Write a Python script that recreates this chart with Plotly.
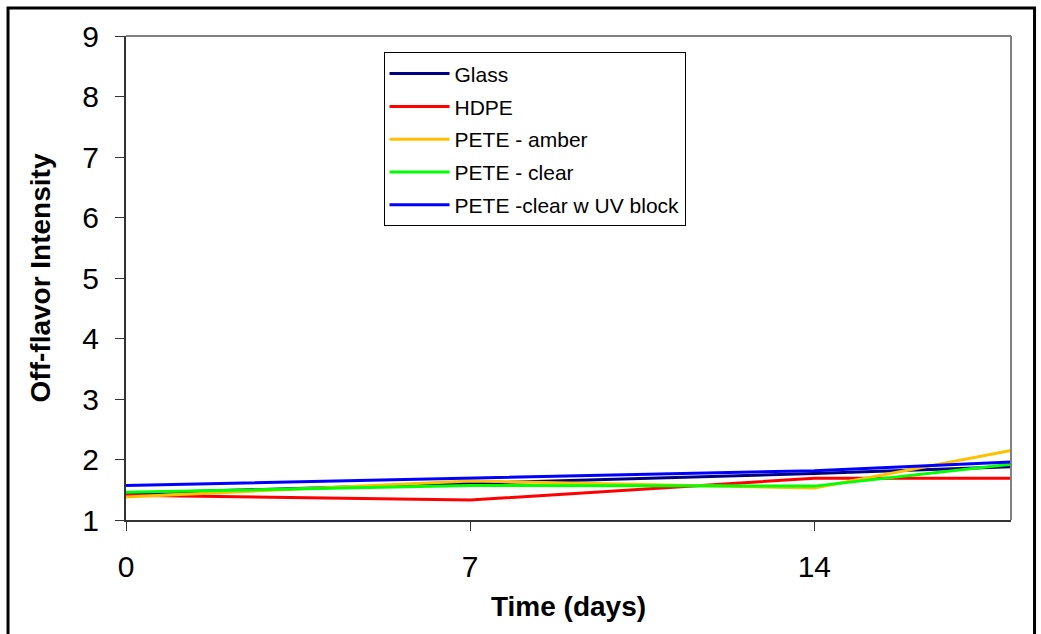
import plotly.graph_objects as go

# Storage time (days) and off-flavor intensity per packaging type
days = [0, 7, 14, 18]
glass = [1.44, 1.60, 1.77, 1.88]
hdpe = [1.41, 1.33, 1.69, 1.69]
pete_amber = [1.38, 1.645, 1.53, 2.15]
pete_clear = [1.46, 1.57, 1.56, 1.92]
pete_uv = [1.57, 1.69, 1.815, 1.96]

series = [
    ("Glass", glass, "#000080"),
    ("HDPE", hdpe, "#FF0000"),
    ("PETE - amber", pete_amber, "#FFC000"),
    ("PETE - clear", pete_clear, "#00FF00"),
    ("PETE -clear w UV block", pete_uv, "#0000FF"),
]

fig = go.Figure()
for name, vals, color in series:
    fig.add_trace(go.Scatter(
        x=days, y=vals, mode="lines", name=name, legendgroup=name,
        line=dict(color=color, width=3),
    ))

font = "Arial, Liberation Sans, sans-serif"

fig.update_layout(
    width=1041, height=634,
    margin=dict(l=126, r=30, t=36, b=114),
    paper_bgcolor="white", plot_bgcolor="white",
    font=dict(family=font, color="black"),
    showlegend=True,
    legend=dict(
        x=0.291, y=0.966, xanchor="left", yanchor="top",
        bordercolor="black", borderwidth=1, bgcolor="white",
        font=dict(size=21, family=font),
        itemwidth=60,
        tracegroupgap=2.5,
    ),
    xaxis=dict(
        range=[0, 18], tickvals=[0, 7, 14], ticktext=["0", "7", "14"],
        showgrid=False, zeroline=False,
        showline=True, linecolor="#333333", linewidth=2,
        ticks="outside", ticklen=9, tickcolor="#333333",
        tickfont=dict(size=30, family=font),
        ticklabelstandoff=10,
        title=dict(text="<b>Time (days)</b>", font=dict(size=28, family=font), standoff=14),
    ),
    yaxis=dict(
        range=[1, 9], dtick=1,
        showgrid=False, zeroline=False,
        showline=True, linecolor="#333333", linewidth=2,
        ticks="outside", ticklen=9, tickcolor="#333333",
        tickfont=dict(size=30, family=font),
        ticklabelstandoff=10,
        title=dict(text="<b>Off-flavor Intensity</b>", font=dict(size=28, family=font), standoff=24),
    ),
    shapes=[
        # gray frame along the top and right of the plot area
        dict(type="line", xref="paper", yref="paper", x0=0, x1=1, y0=1, y1=1,
             line=dict(color="#808080", width=2)),
        dict(type="line", xref="paper", yref="paper", x0=1, x1=1, y0=0, y1=1,
             line=dict(color="#808080", width=2)),
        # outer chart border
        dict(type="rect", xref="paper", yref="paper",
             x0=-0.1333, x1=1.0266, y0=-0.26, y1=1.0579,
             line=dict(color="black", width=3)),
    ],
)

fig.write_html("out.html")
